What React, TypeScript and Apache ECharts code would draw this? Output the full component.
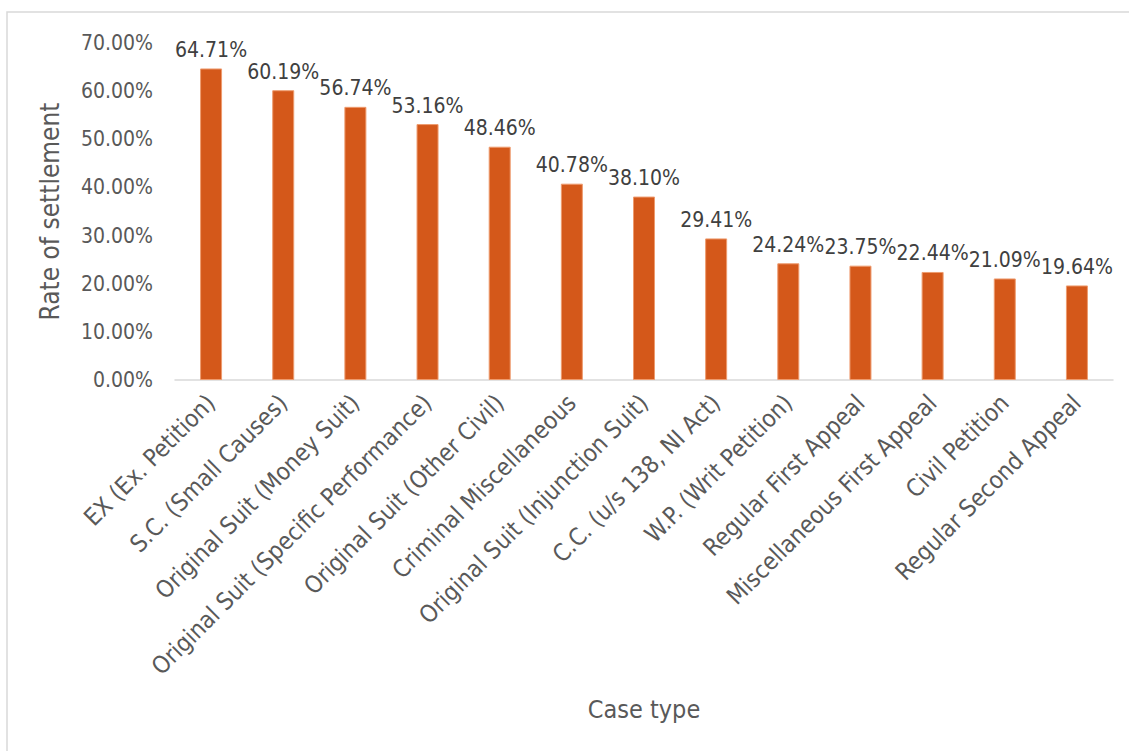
import React, { useEffect, useRef } from "react";
import * as echarts from "echarts";

const categories = [
  "EX (Ex. Petition)",
  "S.C. (Small Causes)",
  "Original Suit (Money Suit)",
  "Original Suit (Specific Performance)",
  "Original Suit (Other Civil)",
  "Criminal Miscellaneous",
  "Original Suit (Injunction Suit)",
  "C.C. (u/s 138, NI Act)",
  "W.P. (Writ Petition)",
  "Regular First Appeal",
  "Miscellaneous First Appeal",
  "Civil Petition",
  "Regular Second Appeal",
];

const rates = [64.71, 60.19, 56.74, 53.16, 48.46, 40.78, 38.1, 29.41, 24.24, 23.75, 22.44, 21.09, 19.64];

const yTicks = [0, 10, 20, 30, 40, 50, 60, 70];

const FONT = "'DejaVu Sans Condensed', 'DejaVu Sans', sans-serif";

export default function App() {
  const ref = useRef<HTMLDivElement>(null);
  useEffect(() => {
    if (!ref.current) return;
    const chart = echarts.init(ref.current, undefined, { renderer: "svg" });
    chart.setOption({
      animation: false,
      backgroundColor: "#ffffff",
      graphic: [
        {
          type: "rect",
          shape: { x: 7, y: 12, width: 1300, height: 900 },
          style: { fill: "none", stroke: "#d9d9d9", lineWidth: 1.5 },
          silent: true,
        },
      ],
      grid: { left: 175, right: 16, top: 43, bottom: 371, containLabel: false },
      xAxis: {
        type: "category",
        data: categories,
        name: "Case type",
        nameLocation: "middle",
        nameGap: 317,
        nameTextStyle: { fontFamily: FONT, fontSize: 25, color: "#595959" },
        axisLine: { lineStyle: { color: "#d9d9d9", width: 1.5 } },
        axisTick: { show: false },
        axisLabel: {
          interval: 0,
          rotate: 45,
          margin: 19,
          fontFamily: FONT,
          fontSize: 24,
          color: "#595959",
        },
      },
      yAxis: {
        type: "value",
        min: yTicks[0],
        max: yTicks[yTicks.length - 1],
        interval: 10,
        name: "Rate of settlement",
        nameLocation: "middle",
        nameGap: 112,
        nameTextStyle: { fontFamily: FONT, fontSize: 26, color: "#595959" },
        axisLine: { show: false },
        axisTick: { show: false },
        splitLine: { show: false },
        axisLabel: {
          margin: 22,
          fontFamily: FONT,
          fontSize: 21,
          color: "#595959",
          formatter: (v: number) => v.toFixed(2) + "%",
        },
      },
      series: [
        {
          type: "bar",
          data: rates,
          barWidth: 22,
          itemStyle: { color: "#D4581A", borderColor: "#EE9B6E", borderWidth: 1 },
          label: {
            show: true,
            position: "top",
            distance: 8,
            fontFamily: FONT,
            fontSize: 21,
            color: "#404040",
            formatter: (p: any) => p.value.toFixed(2) + "%",
          },
        },
      ],
    });
    return () => chart.dispose();
  }, []);
  return (
    <div
      ref={ref}
      style={{ position: "absolute", left: 0, top: 0, width: 1129, height: 751 }}
    />
  );
}
